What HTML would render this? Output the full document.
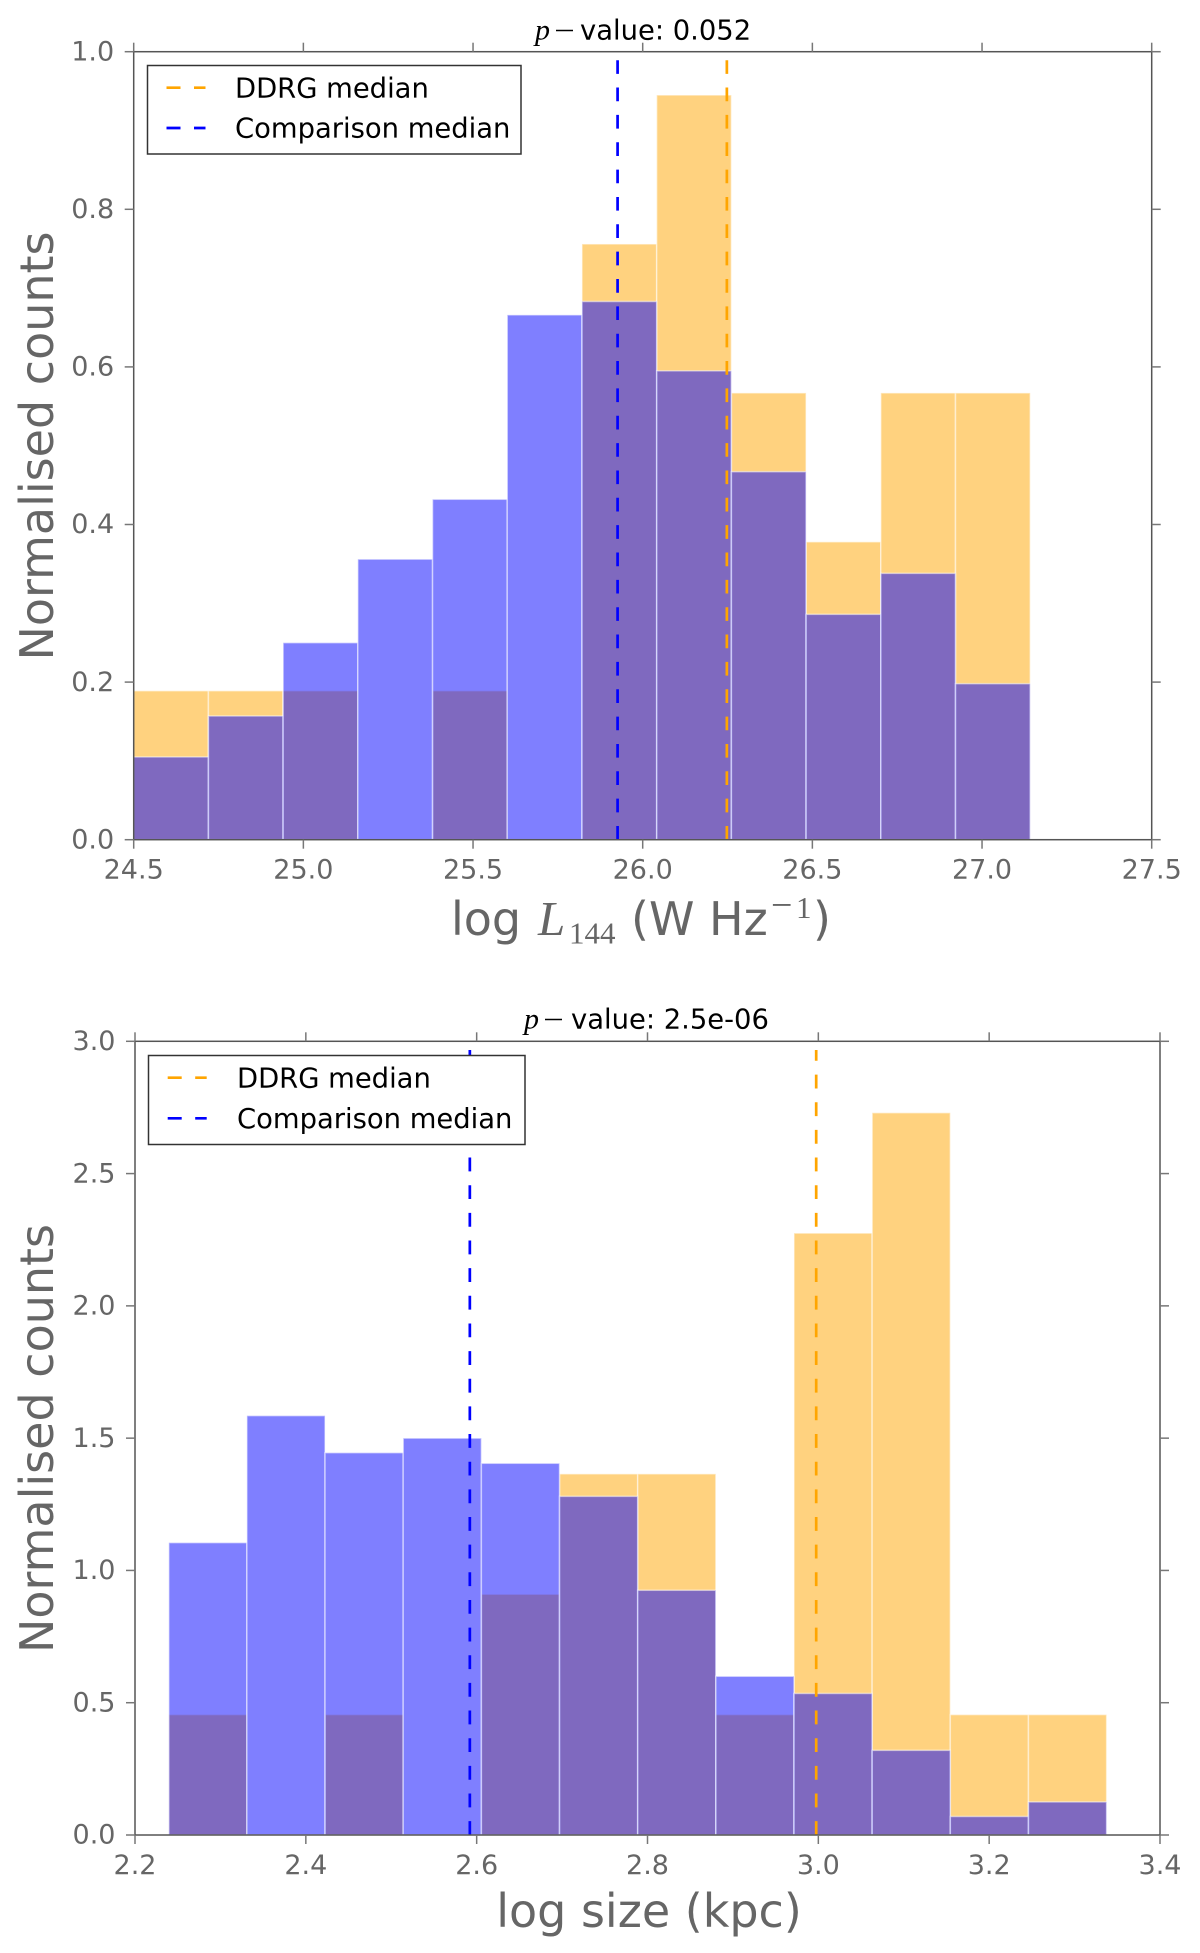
<!DOCTYPE html>
<html lang="en">
<head>
<meta charset="utf-8">
<title>Normalised counts histograms</title>
<style>
html,body{margin:0;padding:0;background:#fff;width:1200px;height:1953px;overflow:hidden}
svg{display:block}
text{font-family:"DejaVu Sans","Liberation Sans",sans-serif}
.tick{font-size:27px;fill:#666}
.title{font-size:27.4px;fill:#000}
.axis-title{font-size:46px;fill:#666}
.leg{font-size:27.4px;fill:#000}
.math{font-family:"Liberation Serif",serif;font-style:italic}
.mathr{font-family:"Liberation Serif",serif}
</style>
</head>
<body>
<svg id="figure" xmlns="http://www.w3.org/2000/svg" width="1200" height="1953" viewBox="0 0 1200 1953">
  <rect x="0" y="0" width="1200" height="1953" fill="#fff"/>
  <g id="chart-top"></g>
  <g id="chart-bottom"></g>

  <text class="title" x="535" y="39.5"><tspan class="math" font-size="30">p</tspan></text>
  <line x1="556" x2="573" y1="30.5" y2="30.5" stroke="#000" stroke-width="1.4"/>
  <text class="title" x="580" y="39.5">value: 0.052</text>

  <g>
    <rect x="147.5" y="65.5" width="373.5" height="88.5" fill="#fff" stroke="#333" stroke-width="1.5"/>
    <line x1="166.5" x2="205.5" y1="87.7" y2="87.7" stroke="#ffa500" stroke-width="2.7" stroke-dasharray="14 13.5"/>
    <text class="leg" x="235" y="97.7">DDRG median</text>
    <line x1="166.5" x2="205.5" y1="128" y2="128" stroke="#0000ff" stroke-width="2.7" stroke-dasharray="14 13.5"/>
    <text class="leg" x="235" y="137.7">Comparison median</text>
  </g>

  <text class="axis-title" text-anchor="middle" transform="translate(53,446) rotate(-90)">Normalised counts</text>
  <text class="axis-title" x="451" y="935">log</text>
  <text class="axis-title math" x="538" y="935" style="font-size:49px">L</text>
  <text class="axis-title mathr" x="569" y="943.3" style="font-size:31px">144</text>
  <text class="axis-title" x="631" y="935">(W Hz</text>
  <text class="axis-title mathr" x="771" y="917.5" style="font-size:38px">−</text>
  <text class="axis-title mathr" x="796" y="918" style="font-size:31px">1</text>
  <text class="axis-title" x="813" y="935">)</text>

  <text class="title" x="524" y="1028.5"><tspan class="math" font-size="30">p</tspan></text>
  <line x1="545" x2="562" y1="1019.5" y2="1019.5" stroke="#000" stroke-width="1.4"/>
  <text class="title" x="571" y="1028.5">value: 2.5e-06</text>

  <g>
    <rect x="148.5" y="1055.5" width="376.5" height="89" fill="#fff" stroke="#333" stroke-width="1.5"/>
    <line x1="167.7" x2="206.7" y1="1077.7" y2="1077.7" stroke="#ffa500" stroke-width="2.7" stroke-dasharray="14 13.5"/>
    <text class="leg" x="237" y="1087.7">DDRG median</text>
    <line x1="167.7" x2="206.7" y1="1118.3" y2="1118.3" stroke="#0000ff" stroke-width="2.7" stroke-dasharray="14 13.5"/>
    <text class="leg" x="237" y="1128">Comparison median</text>
  </g>

  <text class="axis-title" text-anchor="middle" transform="translate(53,1438.5) rotate(-90)">Normalised counts</text>
  <text class="axis-title" x="649" y="1927" text-anchor="middle">log size (kpc)</text>
</svg>
<script>
var topEdges = [24.5, 24.7202, 24.9403, 25.1605, 25.3807, 25.6008, 25.821, 26.0412, 26.2613, 26.4815, 26.7017, 26.9218, 27.142];
var topDdrg = [0.189, 0.189, 0.189, 0, 0.189, 0, 0.756, 0.945, 0.567, 0.378, 0.567, 0.567];
var topComparison = [0.105, 0.157, 0.25, 0.356, 0.432, 0.666, 0.683, 0.595, 0.467, 0.286, 0.338, 0.198];
var topMedians = [26.248, 25.926];
var topXTicks = [24.5, 25.0, 25.5, 26.0, 26.5, 27.0, 27.5];
var topYTicks = [0.0, 0.2, 0.4, 0.6, 0.8, 1.0];
var topXRange = [24.5, 27.5];
var topYRange = [0, 1];

var bottomEdges = [2.2396, 2.331, 2.4225, 2.514, 2.6055, 2.697, 2.7885, 2.88, 2.9715, 3.063, 3.1545, 3.246, 3.3375];
var bottomDdrg = [0.455, 0, 0.455, 0, 0.91, 1.365, 1.365, 0.455, 2.275, 2.73, 0.455, 0.455];
var bottomComparison = [1.105, 1.585, 1.445, 1.5, 1.405, 1.28, 0.925, 0.6, 0.535, 0.32, 0.07, 0.125];
var bottomMedians = [2.9975, 2.592];
var bottomXTicks = [2.2, 2.4, 2.6, 2.8, 3.0, 3.2, 3.4];
var bottomYTicks = [0.0, 0.5, 1.0, 1.5, 2.0, 2.5, 3.0];
var bottomXRange = [2.2, 3.4];
var bottomYRange = [0, 3];

var NS = 'http://www.w3.org/2000/svg';

function make(parent, tag, attrs) {
  var node = document.createElementNS(NS, tag);
  for (var key in attrs) { node.setAttribute(key, attrs[key]); }
  parent.appendChild(node);
  return node;
}

function drawChart(groupId, box, edges, ddrg, comparison, medians, xTicks, yTicks, xRange, yRange, medianTop, dash) {
  var g = document.getElementById(groupId);
  var x = function (v) { return box.left + (v - xRange[0]) / (xRange[1] - xRange[0]) * (box.right - box.left); };
  var y = function (v) { return box.bottom - (v - yRange[0]) / (yRange[1] - yRange[0]) * (box.bottom - box.top); };
  var tickColor = '#777';
  var bar;

  ddrg.forEach(function (v, i) {
    if (v <= 0) return;
    bar = make(g, 'rect', {x: x(edges[i]), y: y(v), width: x(edges[i + 1]) - x(edges[i]), height: y(0) - y(v), fill: '#ffa500', 'fill-opacity': 0.5, stroke: '#fff', 'stroke-opacity': 0.5, 'stroke-width': 1.5});
    
    
  });
  comparison.forEach(function (v, i) {
    if (v <= 0) return;
    bar = make(g, 'rect', {x: x(edges[i]), y: y(v), width: x(edges[i + 1]) - x(edges[i]), height: y(0) - y(v), fill: '#0000ff', 'fill-opacity': 0.5, stroke: '#fff', 'stroke-opacity': 0.5, 'stroke-width': 1.5});
    
    
  });

  var medianColors = ['#ffa500', '#0000ff'];
  medians.forEach(function (v, i) {
    var line = make(g, 'line', {x1: x(v), x2: x(v), y1: box.bottom, y2: medianTop, stroke: medianColors[i], 'stroke-width': 2.7, 'stroke-dasharray': dash});
    
    
  });

  var frame = make(g, 'rect', {x: box.left, y: box.top, width: box.right - box.left, height: box.bottom - box.top, fill: 'none', stroke: '#555', 'stroke-width': 1.5});
  
  

  xTicks.forEach(function (v) {
    var px = x(v);
    var tb = make(g, 'line', {x1: px, x2: px, y1: box.bottom, y2: box.bottom + 9, stroke: tickColor, 'stroke-width': 1.5});
    
    
    var tt = make(g, 'line', {x1: px, x2: px, y1: box.top, y2: box.top - 9, stroke: tickColor, 'stroke-width': 1.5});
    
    
    var lab = make(g, 'text', {x: px, y: box.bottom + 39, 'text-anchor': 'middle', 'class': 'tick'});
    lab.textContent = v.toFixed(1);
    
    
  });
  yTicks.forEach(function (v) {
    var py = y(v);
    var tl = make(g, 'line', {x1: box.left, x2: box.left - 9, y1: py, y2: py, stroke: tickColor, 'stroke-width': 1.5});
    
    
    var tr = make(g, 'line', {x1: box.right, x2: box.right + 9, y1: py, y2: py, stroke: tickColor, 'stroke-width': 1.5});
    
    
    var lab = make(g, 'text', {x: box.left - 19.5, y: py + 8.7, 'text-anchor': 'end', 'class': 'tick'});
    lab.textContent = v.toFixed(1);
    
    
  });
}

drawChart('chart-top', {left: 133.7, right: 1151.7, top: 51.7, bottom: 839.7}, topEdges, topDdrg, topComparison, topMedians, topXTicks, topYTicks, topXRange, topYRange, 60, '13.7 13.65');
drawChart('chart-bottom', {left: 135, right: 1160, top: 1041.3, bottom: 1835}, bottomEdges, bottomDdrg, bottomComparison, bottomMedians, bottomXTicks, bottomYTicks, bottomXRange, bottomYRange, 1050, '13.85 13.8');
</script>
</body>
</html>
